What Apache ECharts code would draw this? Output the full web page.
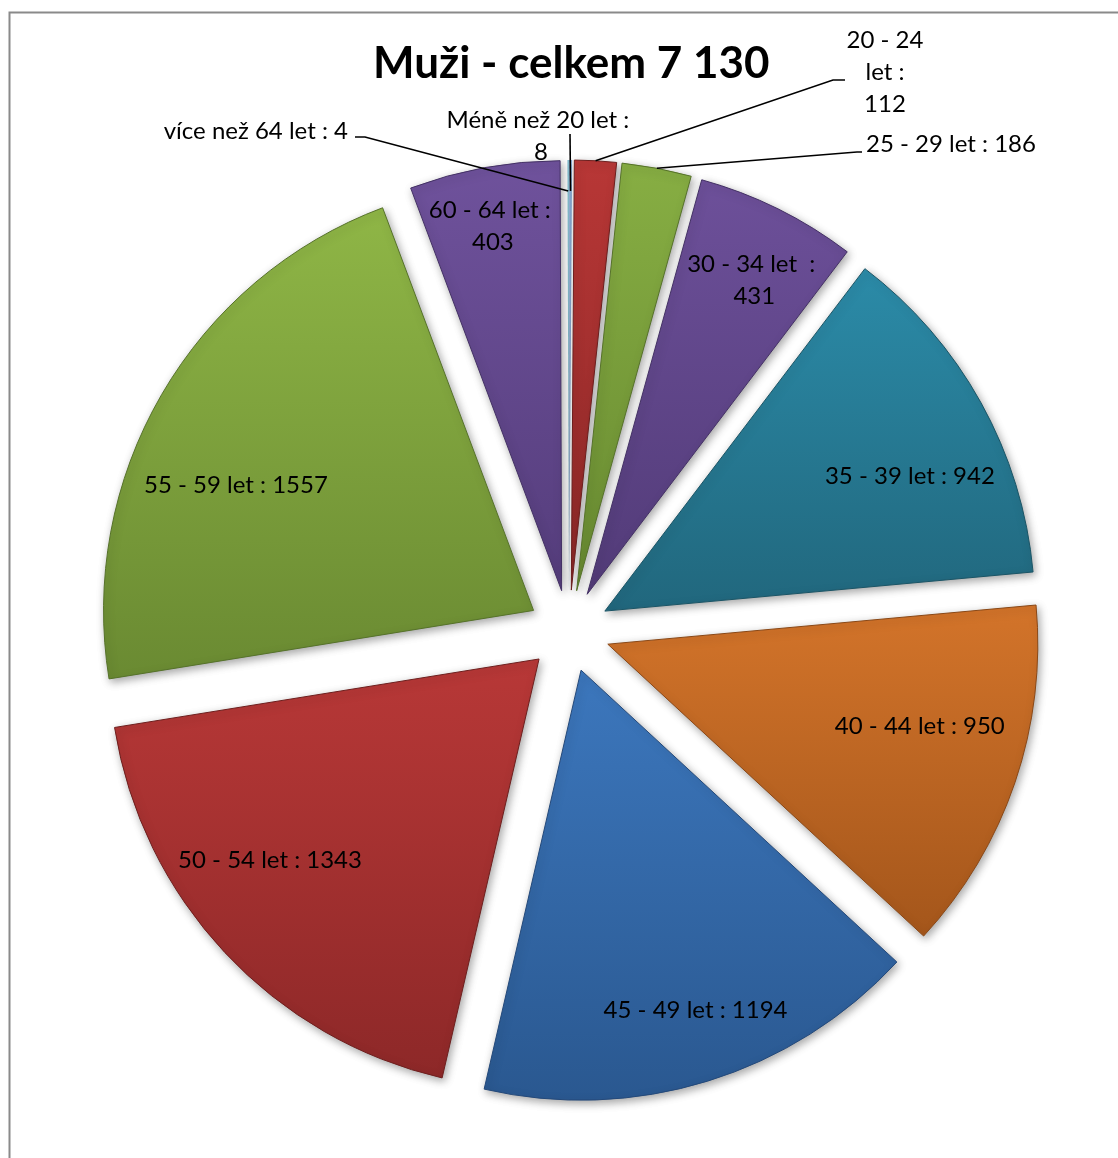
<!DOCTYPE html>
<html>
<head>
<meta charset="utf-8">
<title>Muži - celkem 7 130</title>
<script src="https://cdn.jsdelivr.net/npm/echarts@6/dist/echarts.min.js"></script>
<style>
  html, body { margin: 0; padding: 0; background: #ffffff; }
  #chart { width: 1118px; height: 1158px; }
</style>
</head>
<body>
<div id="chart"></div>
<script>
// Age groups and head counts
const categories = [
  'Méně než 20 let', '20 - 24 let', '25 - 29 let', '30 - 34 let ',
  '35 - 39 let', '40 - 44 let', '45 - 49 let', '50 - 54 let',
  '55 - 59 let', '60 - 64 let', 'více než 64 let'
];
const counts = [8, 112, 186, 431, 942, 950, 1194, 1343, 1557, 403, 4];
const titleText = 'Muži - celkem 7 130';

// Slice shading: top and bottom colour of each slice's gradient, plus edge colour
const sliceTop = ['#3d78be', '#b83736', '#87ae43', '#6d509a', '#2b8ba8', '#d3742a',
                  '#3c77bd', '#b83837', '#8fb646', '#6f529c', '#2b8ba8'];
const sliceBottom = ['#2b5990', '#8c2827', '#688a31', '#523b78', '#21677d', '#a4561b',
                     '#2a5890', '#8d2828', '#6a8a32', '#553d7c', '#21677d'];
const sliceEdge = ['#24497a', '#6e1f1e', '#56722a', '#443165', '#1b5566', '#8a4816',
                   '#24497a', '#6e1f1e', '#56722a', '#443165', '#1b5566'];

// Pie geometry (pixels)
const CX = 569, CY = 631, R = 430, EXPLODE = 41;

// Inside labels: distance from the slice apex (fraction of the radius)
// and angular shift from the slice's middle (degrees)
const labelRadius = { 3: 0.827, 4: 0.776, 5: 0.750, 6: 0.834, 7: 0.781, 8: 0.751, 9: 0.863 };
const labelShift  = { 3: 1.7,   4: 5.1,   5: -4.1,  6: -1.5,  7: 6.3,   8: -7.3,  9: -0.3 };
// Wrap widths for labels that run over two or three lines
const labelWrap = { 0: 230, 1: 80, 3: 140, 9: 130 };
// Callout labels for the thin slices: label anchor, alignment, leader line path
const callouts = {
  0:  { x: 541, y: 136, align: 'center', inset: 31, path: [[570, 134], [570, 134]] },
  1:  { x: 885, y: 72,  align: 'center', inset: 0,  path: [[833, 80], [845, 80]] },
  2:  { x: 866, y: 144, align: 'left',   inset: 0,  path: [[857, 152], [862, 152]] },
  10: { x: 348, y: 131, align: 'right',  inset: 31, path: [[365, 137], [355, 137]] }
};

const FONT = 'Lato';

function gradient(i) {
  return {
    type: 'linear', x: 0, y: 0, x2: 0, y2: 1,
    colorStops: [
      { offset: 0, color: sliceTop[i] },
      { offset: 1, color: sliceBottom[i] }
    ]
  };
}

// Coloured slices; hairline slivers get no outline or shadow
const sliceData = categories.map(function (name, i) {
  const thin = counts[i] < 20;
  return {
    name: name,
    value: counts[i],
    selected: true,
    itemStyle: thin
      ? { color: gradient(i), borderWidth: 0, shadowBlur: 0, shadowOffsetX: 0, shadowOffsetY: 0, opacity: 0.6 }
      : { color: gradient(i), borderColor: sliceEdge[i] }
  };
});

// Same slices again, transparent, carrying the data labels and leader lines
const labelData = categories.map(function (name, i) {
  const item = {
    name: name,
    value: counts[i],
    selected: true,
    label: { position: callouts[i] ? 'outside' : 'inside' },
    labelLine: { show: !!callouts[i] }
  };
  if (labelWrap[i]) {
    item.label.width = labelWrap[i];
    item.label.overflow = 'break';
  }
  return item;
});

// The label rect handed in is measured before the exploded offset is applied;
// the selected state then moves every label outward by EXPLODE along its slice.
function placeLabel(p) {
  const i = p.dataIndex;
  const r = p.labelRect;
  const co = callouts[i];
  const lx = r.x + r.width / 2, ly = r.y + r.height / 2;
  if (!co) {
    const ux = lx - CX, uy = ly - CY, d = Math.hypot(ux, uy) || 1;
    const nx = ux / d, ny = uy / d;
    const apexX = CX + nx * EXPLODE, apexY = CY + ny * EXPLODE;
    const a = Math.atan2(nx, -ny) + (labelShift[i] || 0) * Math.PI / 180;
    const dist = (labelRadius[i] || 0.79) * R;
    const tx = apexX + Math.sin(a) * dist;
    const ty = apexY - Math.cos(a) * dist;
    return { dx: tx - lx - nx * EXPLODE, dy: ty - ly - ny * EXPLODE };
  }
  const align = p.align || (lx > CX ? 'left' : 'right');
  const ax = align === 'left' ? r.x : (align === 'right' ? r.x + r.width : lx);
  // leader line: from the slice rim towards the callout text
  const p0 = p.labelLinePoints ? p.labelLinePoints[0] : [CX, CY - R];
  const ux = p0[0] - CX, uy = p0[1] - CY, ul = Math.hypot(ux, uy) || 1;
  const nx = ux / ul, ny = uy / ul;
  const ox = nx * EXPLODE, oy = ny * EXPLODE;
  const start = [p0[0] - nx * co.inset, p0[1] - ny * co.inset];
  const pts = [start].concat(co.path.map(function (q) {
    return [q[0] - ox, q[1] - oy];
  }));
  return {
    dx: co.x - ax - ox,
    dy: co.y - ly - oy,
    align: co.align,
    labelLinePoints: pts
  };
}

const chart = echarts.init(document.getElementById('chart'), null, { renderer: 'canvas' });

chart.setOption({
  backgroundColor: '#ffffff',
  animation: false,
  title: {
    text: titleText,
    left: 373,
    top: 42,
    padding: 0,
    textStyle: {
      fontFamily: FONT,
      fontWeight: 'bold',
      fontSize: 44,
      color: '#000000'
    }
  },
  graphic: [{
    type: 'rect',
    silent: true,
    shape: { x: 9.5, y: 12.5, width: 1200, height: 1200 },
    style: { fill: 'none', stroke: '#8a8a8a', lineWidth: 2 }
  }],
  series: [{
    type: 'pie',
    z: 2,
    center: [CX, CY],
    radius: [0, R],
    startAngle: 90,
    clockwise: true,
    selectedMode: 'multiple',
    selectedOffset: EXPLODE,
    silent: true,
    emphasis: { disabled: true },
    itemStyle: {
      borderWidth: 1,
      shadowBlur: 8,
      shadowOffsetX: 2,
      shadowOffsetY: 3,
      shadowColor: 'rgba(0, 0, 0, 0.35)'
    },
    label: { show: false },
    labelLine: { show: false },
    data: sliceData
  }, {
    type: 'pie',
    z: 4,
    center: [CX, CY],
    radius: [0, R],
    startAngle: 90,
    clockwise: true,
    selectedMode: 'multiple',
    selectedOffset: EXPLODE,
    avoidLabelOverlap: false,
    minShowLabelAngle: 0,
    silent: true,
    emphasis: { disabled: true },
    itemStyle: { color: 'rgba(0,0,0,0)', borderWidth: 0 },
    label: {
      show: true,
      formatter: '{b} : {c}',
      color: '#000000',
      fontFamily: FONT,
      fontSize: 24,
      lineHeight: 32,
      align: 'center'
    },
    labelLine: {
      show: false,
      length: 10,
      length2: 10,
      smooth: false,
      lineStyle: { color: '#000000', width: 1.6 }
    },
    labelLayout: placeLabel,
    data: labelData
  }]
});
</script>
</body>
</html>
